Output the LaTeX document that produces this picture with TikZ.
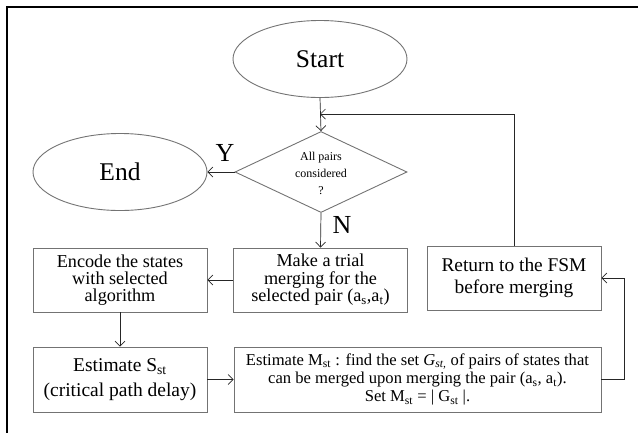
\documentclass[tikz,border=0pt]{standalone}
\usepackage{fontspec}
\setmainfont{Liberation Serif}
\usetikzlibrary{shapes.geometric,arrows.meta}
\tikzset{
  shapeline/.style={draw=black!55, line width=0.9pt},
  ell/.style={shapeline, ellipse, inner sep=0pt, minimum width=174pt, minimum height=77pt, font=\fontsize{25.5}{28}\selectfont},
  proc/.style={shapeline, rectangle, inner sep=0pt, minimum width=174pt, minimum height=64pt, align=center},
  arr/.style={draw=black!85, line width=0.7pt, -{Straight Barb[length=5pt,width=10pt,line width=0.7pt]}},
  lbl/.style={font=\fontsize{26}{28}\selectfont, inner sep=0pt}
}
\begin{document}
\begin{tikzpicture}[x=1pt,y=-1pt]
\useasboundingbox (0,0) rectangle (638,432);
\draw[line width=2.6pt, black] (7,445) -- (7,7) -- (650,7);
\node[ell] (start) at (320,59) {Start};
\node[ell] (end) at (120,172) {End};
\node[shapeline, diamond, inner sep=0pt, minimum width=172pt, minimum height=81pt] (dec) at (321,172) {};
\node[align=center, inner sep=0pt, font=\fontsize{12}{17}\selectfont] (dectext) at (321,173) {All pairs\\considered\\?};
\node[proc, font=\fontsize{18.2}{17.5}\selectfont] (make) at (320.5,280) {Make a trial\\merging for the\\selected pair (a\textsubscript{s},a\textsubscript{t})};
\node[proc, font=\fontsize{18.2}{16.7}\selectfont] (encode) at (120,280) {Encode the states\\with selected\\algorithm};
\node[proc, minimum height=65pt, font=\fontsize{19.5}{25}\selectfont] (ests) at (120,379.5) {Estimate S\textsubscript{st}\\(critical path delay)};
\node[proc, minimum width=367pt, minimum height=65pt, font=\fontsize{16.6}{18.2}\selectfont] (estm) at (417.5,379.5) {Estimate M\textsubscript{st} : find the set \textit{G\textsubscript{st,}} of pairs of states that\\can be merged upon merging the pair (a\textsubscript{s}, a\textsubscript{t}).\\Set M\textsubscript{st} = | G\textsubscript{st} |.};
\node[proc, font=\fontsize{19.4}{22.7}\selectfont] (ret) at (514,278) {Return to the FSM\\before merging};
\coordinate (join) at (320,114);
\coordinate (rx) at (624,0);
\draw[arr] (start.south) -- (dec.north);
\draw[arr] (ret.north) |- (join);
\draw[arr] (dec.west) -- (end.east);
\draw[arr] (dec.south) -- (make.north);
\draw[arr] (make.west) -- (encode.east);
\draw[arr] (encode.south) -- (ests.north);
\draw[arr] (ests.east) -- (estm.west);
\draw[arr] (estm.east) -- (estm.east -| rx) |- (ret.east);
\node[lbl] (ylbl) at (225,153) {Y};
\node[lbl] (nlbl) at (342,225) {N};
\end{tikzpicture}
\end{document}
